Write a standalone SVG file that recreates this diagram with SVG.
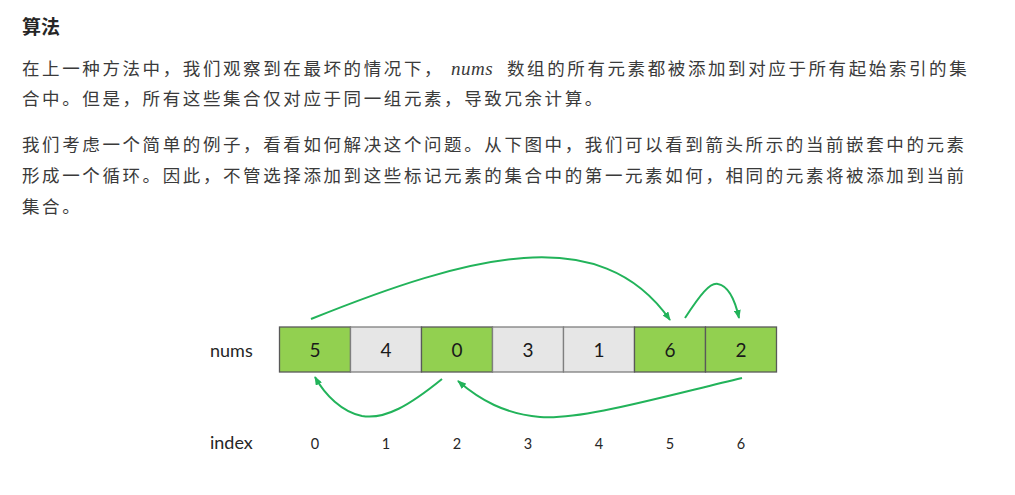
<svg xmlns="http://www.w3.org/2000/svg" width="1015" height="495" viewBox="0 0 1015 495">
<style>
.t{font-family:"Noto Sans CJK SC","Noto Sans",sans-serif;font-size:17.5px;fill:#3a3a3a;letter-spacing:2.6px}
.h{font-family:"Noto Sans CJK SC","Noto Sans",sans-serif;font-size:19px;font-weight:bold;fill:#262626}
.m{font-family:"Liberation Serif",serif;font-style:italic;font-size:19px;letter-spacing:0.5px}
.g{fill:#92d050;stroke:#595959;stroke-width:1.3}
.w{fill:#e6e6e6;stroke:#7f7f7f;stroke-width:1.3}
.v{font-family:Lato,"Open Sans",sans-serif;font-size:19px;fill:#1a1a1a;text-anchor:middle}
.lb{font-family:Lato,"Open Sans",sans-serif;font-size:18px;fill:#262626}
.ix{font-family:Lato,"Open Sans",sans-serif;font-size:14.5px;fill:#262626;text-anchor:middle}
.a{fill:none;stroke:#22b35a;stroke-width:2;marker-end:url(#ah)}
</style>
<defs>
<marker id="ah" markerWidth="9" markerHeight="7" refX="8" refY="3.5" orient="auto" markerUnits="userSpaceOnUse">
<path d="M0,0 L9,3.5 L0,7 Z" fill="#22b35a"/>
</marker>
</defs>
<rect width="1015" height="495" fill="#ffffff"/>
<g id="text">
<text class="h" x="22" y="34">算法</text>
<text class="t" x="22" y="75">在上一种方法中，我们观察到在最坏的情况下，<tspan class="m" x="451">nums</tspan><tspan x="507">数组的所有元素都被添加到对应于所有起始索引的集</tspan></text>
<text class="t" x="22" y="105">合中。但是，所有这些集合仅对应于同一组元素，导致冗余计算。</text>
<text class="t" x="22" y="151">我们考虑一个简单的例子，看看如何解决这个问题。从下图中，我们可以看到箭头所示的当前嵌套中的元素</text>
<text class="t" x="22" y="182">形成一个循环。因此，不管选择添加到这些标记元素的集合中的第一元素如何，相同的元素将被添加到当前</text>
<text class="t" x="22" y="213">集合。</text>
</g>
<g id="labels">
<text class="lb" x="210" y="357">nums</text>
<text class="lb" x="210" y="449">index</text>
</g>
<g id="cell0"><rect class="g" x="279.5" y="327" width="71" height="45"/><text class="v" x="315" y="357">5</text><text class="ix" x="315" y="449">0</text></g>
<g id="cell1"><rect class="w" x="350.5" y="327" width="71" height="45"/><text class="v" x="386" y="357">4</text><text class="ix" x="386" y="449">1</text></g>
<g id="cell2"><rect class="g" x="421.5" y="327" width="71" height="45"/><text class="v" x="457" y="357">0</text><text class="ix" x="457" y="449">2</text></g>
<g id="cell3"><rect class="w" x="492.5" y="327" width="71" height="45"/><text class="v" x="528" y="357">3</text><text class="ix" x="528" y="449">3</text></g>
<g id="cell4"><rect class="w" x="563.5" y="327" width="71" height="45"/><text class="v" x="599" y="357">1</text><text class="ix" x="599" y="449">4</text></g>
<g id="cell5"><rect class="g" x="634.5" y="327" width="71" height="45"/><text class="v" x="670" y="357">6</text><text class="ix" x="670" y="449">5</text></g>
<g id="cell6"><rect class="g" x="705.5" y="327" width="71" height="45"/><text class="v" x="741" y="357">2</text><text class="ix" x="741" y="449">6</text></g>
<g id="connectors">
<path class="a" d="M311,319 C470,255 600,220 670,320"/>
<path class="a" d="M685,318 C700,295 710,282 718,284 C728,286 735,300 739,318"/>
<path class="a" d="M442,379 C410,405 385,420 362,416 C342,412 325,395 315,377"/>
<path class="a" d="M742,378 C650,400 580,420 540,417 C505,414 480,400 458,381"/>
</g>
</svg>
